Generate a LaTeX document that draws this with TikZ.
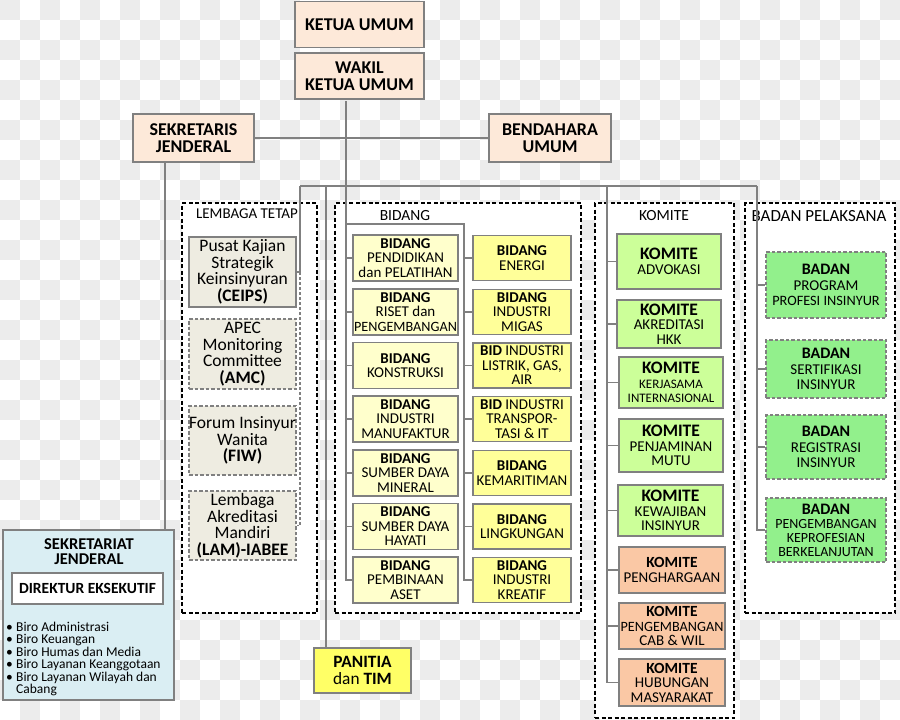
\documentclass[tikz,border=0pt]{standalone}
\usepackage{fontspec}
\setmainfont{Carlito}
\definecolor{PIIGray}{RGB}{128,128,128}
\definecolor{PIIPeach}{RGB}{253,233,217}
\definecolor{PIITan}{RGB}{238,236,225}
\definecolor{PIILemon}{RGB}{255,255,204}
\definecolor{PIIYellow}{RGB}{255,255,153}
\definecolor{PIILime}{RGB}{204,255,153}
\definecolor{PIIOrange}{RGB}{250,200,165}
\definecolor{PIIGreen}{RGB}{146,240,140}
\definecolor{PIISky}{RGB}{218,238,243}
\definecolor{PIIPanitia}{RGB}{255,255,102}
\definecolor{PIIChecker}{RGB}{236,236,236}
\usetikzlibrary{positioning}
\newcommand{\biroitem}{\makebox[10pt][l]{\textbullet}}

\begin{document}
\begin{tikzpicture}[x=1pt, y=-1pt,
  box/.style={rectangle, draw=PIIGray, line width=1.6pt, inner sep=0pt, align=center, font=\fontsize{15}{14.5}\selectfont},
  topbox/.style={box, fill=PIIPeach, minimum width=129pt, minimum height=46pt, font=\fontsize{18}{17.5}\selectfont\bfseries},
  lembox/.style={box, fill=PIITan, minimum width=107pt, minimum height=70pt, font=\fontsize{17.5}{16.5}\selectfont},
  lemdash/.style={lembox, dashed, dash pattern=on 3.5pt off 2pt},
  bidleft/.style={box, fill=PIILemon, minimum width=105pt, minimum height=46pt},
  bidright/.style={box, fill=PIIYellow, minimum width=98pt, minimum height=45pt},
  komgreen/.style={box, fill=PIILime, minimum width=104pt, font=\fontsize{15}{14.5}\selectfont},
  komorange/.style={box, fill=PIIOrange, minimum width=106pt, minimum height=46pt},
  badbox/.style={box, fill=PIIGreen, minimum width=120pt, dashed, dash pattern=on 3.5pt off 2pt, font=\fontsize{15}{15.5}\selectfont},
  group/.style={rectangle, draw=black, fill=white, line width=1.6pt, dashed, dash pattern=on 4pt off 2.5pt, inner sep=0pt},
  grouptitle/.style={inner sep=0pt, font=\fontsize{15.5}{15.5}\selectfont},
  link/.style={draw=PIIGray, line width=1.2pt}
]
\useasboundingbox (0,0) rectangle (900,720);
% background squares
\foreach \i in {0,...,44}{\foreach \j in {0,...,35}{
  \pgfmathtruncatemacro\odd{mod(\i+\j,2)}
  \ifnum\odd=0 \fill[PIIChecker] (\i*20,\j*20) rectangle ++(20,20); \fi}}

% Pimpinan
\node[topbox] (ketua) at (359.5,24.5) {KETUA UMUM};
\node[topbox] (wakil) at (359.5,76) {WAKIL\\KETUA UMUM};
\node[topbox, minimum width=121pt, minimum height=48pt] (sekjen) at (193.5,138) {SEKRETARIS\\JENDERAL};
\node[topbox, minimum width=122pt, minimum height=48pt] (bendahara) at (550,138) {BENDAHARA\\UMUM};

% Kelompok
\node[group, minimum width=135pt, minimum height=410pt] (lemgrp) at (249.5,408) {};
\node[grouptitle, font=\fontsize{15}{15}\selectfont] (lemtitle) at (247,214) {LEMBAGA TETAP};
\node[group, minimum width=246pt, minimum height=410pt] (bidgrp) at (458,408) {};
\node[grouptitle] (bidtitle) at (405,216) {BIDANG};
\node[group, minimum width=139pt, minimum height=515pt] (komgrp) at (664.5,460.5) {};
\node[grouptitle] (komtitle) at (664,216) {KOMITE};
\node[group, minimum width=150pt, minimum height=410pt] (badgrp) at (820,408) {};
\node[grouptitle, font=\fontsize{17}{17}\selectfont] (badtitle) at (819,216) {BADAN PELAKSANA};

% Lembaga Tetap
\node[lembox] (ceips) at (242.5,272) {Pusat Kajian\\Strategik\\Keinsinyuran\\\textbf{(CEIPS)}};
\node[lemdash] (amc) at (242.5,354) {APEC\\Monitoring\\Committee\\\textbf{(AMC)}};
\node[lemdash, minimum height=69pt] (fiw) at (242.5,440.5) {Forum Insinyur\\Wanita\\\textbf{(FIW)}};
\node[lemdash, minimum height=69pt] (lam) at (242.5,525.5) {Lembaga\\Akreditasi\\Mandiri\\\textbf{(LAM)-IABEE}};

% Bidang
\node[bidleft] (bL1) at (405.5,258) {\textbf{BIDANG}\\PENDIDIKAN\\dan PELATIHAN};
\node[bidleft] (bL2) at (405.5,312) {\textbf{BIDANG}\\RISET dan\\{\fontsize{14.2}{14.5}\selectfont PENGEMBANGAN}};
\node[bidleft] (bL3) at (405.5,365.5) {\textbf{BIDANG}\\KONSTRUKSI};
\node[bidleft] (bL4) at (405.5,419) {\textbf{BIDANG}\\INDUSTRI\\MANUFAKTUR};
\node[bidleft] (bL5) at (405.5,473) {\textbf{BIDANG}\\SUMBER DAYA\\MINERAL};
\node[bidleft] (bL6) at (405.5,526.5) {\textbf{BIDANG}\\SUMBER DAYA\\HAYATI};
\node[bidleft] (bL7) at (405.5,580) {\textbf{BIDANG}\\PEMBINAAN\\ASET};
\node[bidright] (bR1) at (522,258) {\textbf{BIDANG}\\ENERGI};
\node[bidright] (bR2) at (522,312) {\textbf{BIDANG}\\INDUSTRI\\MIGAS};
\node[bidright] (bR3) at (522,365.5) {\textbf{BID} INDUSTRI\\LISTRIK, GAS,\\AIR};
\node[bidright] (bR4) at (522,419) {\textbf{BID} INDUSTRI\\TRANSPOR-\\TASI \& IT};
\node[bidright] (bR5) at (522,473) {\textbf{BIDANG}\\KEMARITIMAN};
\node[bidright] (bR6) at (522,526.5) {\textbf{BIDANG}\\LINGKUNGAN};
\node[bidright] (bR7) at (522,580) {\textbf{BIDANG}\\INDUSTRI\\KREATIF};

% Komite
\node[komgreen, minimum height=55pt] (k1) at (669,261.5) {{\fontsize{17.5}{16}\selectfont\bfseries KOMITE}\\ADVOKASI};
\node[komgreen, minimum height=48pt] (k2) at (669,324) {{\fontsize{17.5}{14}\selectfont\bfseries KOMITE}\\AKREDITASI\\HKK};
\node[komgreen, minimum height=51pt] (k3) at (671,382.5) {{\fontsize{17.5}{14}\selectfont\bfseries KOMITE}\\{\fontsize{13}{13}\selectfont KERJASAMA}\\{\fontsize{13}{13}\selectfont INTERNASIONAL}};
\node[komgreen, minimum height=53pt] (k4) at (671,445.5) {{\fontsize{17.5}{15}\selectfont\bfseries KOMITE}\\PENJAMINAN\\MUTU};
\node[komgreen, minimum height=51pt, minimum width=105pt] (k5) at (670.5,510.5) {{\fontsize{17.5}{15}\selectfont\bfseries KOMITE}\\KEWAJIBAN\\INSINYUR};
\node[komorange] (k6) at (672,570) {{\fontsize{15.5}{15}\selectfont\bfseries KOMITE}\\PENGHARGAAN};
\node[komorange] (k7) at (672,626) {{\fontsize{15.5}{14.5}\selectfont\bfseries KOMITE}\\{\fontsize{14.2}{14.5}\selectfont PENGEMBANGAN}\\CAB \& WIL};
\node[komorange, minimum height=47pt] (k8) at (672,682.5) {{\fontsize{15.5}{14.5}\selectfont\bfseries KOMITE}\\HUBUNGAN\\MASYARAKAT};

% Badan Pelaksana
\node[badbox, minimum height=66pt] (bd1) at (826,285) {{\fontsize{16}{15}\selectfont\bfseries BADAN}\\PROGRAM\\{\fontsize{14.3}{15}\selectfont PROFESI INSINYUR}};
\node[badbox, minimum height=58pt] (bd2) at (826,369) {{\fontsize{16}{17}\selectfont\bfseries BADAN}\\SERTIFIKASI\\INSINYUR};
\node[badbox, minimum height=64pt] (bd3) at (826,447) {{\fontsize{16}{15}\selectfont\bfseries BADAN}\\REGISTRASI\\INSINYUR};
\node[badbox, minimum height=64pt, font=\fontsize{14}{14}\selectfont] (bd4) at (826,530) {{\fontsize{16}{15}\selectfont\bfseries BADAN}\\PENGEMBANGAN\\KEPROFESIAN\\BERKELANJUTAN};

% Sekretariat
\node[box, fill=PIISky, minimum width=171pt, minimum height=170pt] (sekr) at (88.5,615) {};
\node[inner sep=0pt, align=center, font=\fontsize{16.5}{15}\selectfont\bfseries] (sekrtitle) at (89,552) {SEKRETARIAT\\JENDERAL};
\node[box, fill=white, minimum width=151pt, minimum height=31pt, font=\fontsize{15.5}{15.5}\selectfont\bfseries] (direktur) at (87.5,588.5) {DIREKTUR EKSEKUTIF};
\node[anchor=north west, inner sep=0pt, align=left, font=\fontsize{13.5}{12.4}\selectfont] (biro) at (6,622) {\biroitem Biro Administrasi\\\biroitem Biro Keuangan\\\biroitem Biro Humas dan Media\\\biroitem Biro Layanan Keanggotaan\\\biroitem Biro Layanan Wilayah dan\\\hspace*{10pt}Cabang};

% Panitia
\node[box, fill=PIIPanitia, minimum width=97pt, minimum height=45pt, font=\fontsize{17.3}{17}\selectfont] (panitia) at (362.5,670.5) {\textbf{PANITIA}\\dan \textbf{TIM}};

% Garis penghubung
\coordinate (busL) at (300,186);
\coordinate (busR) at (757,186);
\coordinate (spine) at (346,101);
\coordinate (bidR) at (464,224);
\coordinate (panTop) at (326,186);
\coordinate (komTop) at (607,186);
\coordinate (sjTop) at (165,163);

\draw[link] (sekjen.east) -- (bendahara.west);
\draw[link] (sjTop) -- (sjTop |- sekr.north);
\draw[link] (busL) -- (busR);
\draw[link] (panTop) -- (panTop |- panitia.north);
\draw[link] (busL) -- (busL |- ceips.east) -- (ceips.east);
\draw[link, dashed, dash pattern=on 3pt off 2pt] (busL |- ceips.east) -- (busL |- lam.east) -- (lam.east);

\draw[link] (spine) -- (spine |- bL7.west) -- (bL7.west);
\draw[link] (spine |- bL1.west) -- (bL1.west) (spine |- bL2.west) -- (bL2.west)
  (spine |- bL3.west) -- (bL3.west) (spine |- bL4.west) -- (bL4.west)
  (spine |- bL5.west) -- (bL5.west) (spine |- bL6.west) -- (bL6.west);
\draw[link] (spine |- bidR) -- (bidR) -- (bidR |- bR7.west) -- (bR7.west);
\draw[link] (bidR |- bR1.west) -- (bR1.west) (bidR |- bR2.west) -- (bR2.west)
  (bidR |- bR3.west) -- (bR3.west) (bidR |- bR4.west) -- (bR4.west)
  (bidR |- bR5.west) -- (bR5.west) (bidR |- bR6.west) -- (bR6.west);

\draw[link] (komTop) -- (komTop |- k8.west) -- (k8.west);
\draw[link] (komTop |- k1.west) -- (k1.west) (komTop |- k2.west) -- (k2.west)
  (komTop |- k3.west) -- (k3.west) (komTop |- k4.west) -- (k4.west)
  (komTop |- k5.west) -- (k5.west) (komTop |- k6.west) -- (k6.west)
  (komTop |- k7.west) -- (k7.west);

\draw[link] (busR) -- (busR |- bd4.west) -- (bd4.west);
\draw[link] (busR |- bd1.west) -- (bd1.west) (busR |- bd2.west) -- (bd2.west)
  (busR |- bd3.west) -- (bd3.west);
\end{tikzpicture}
\end{document}
